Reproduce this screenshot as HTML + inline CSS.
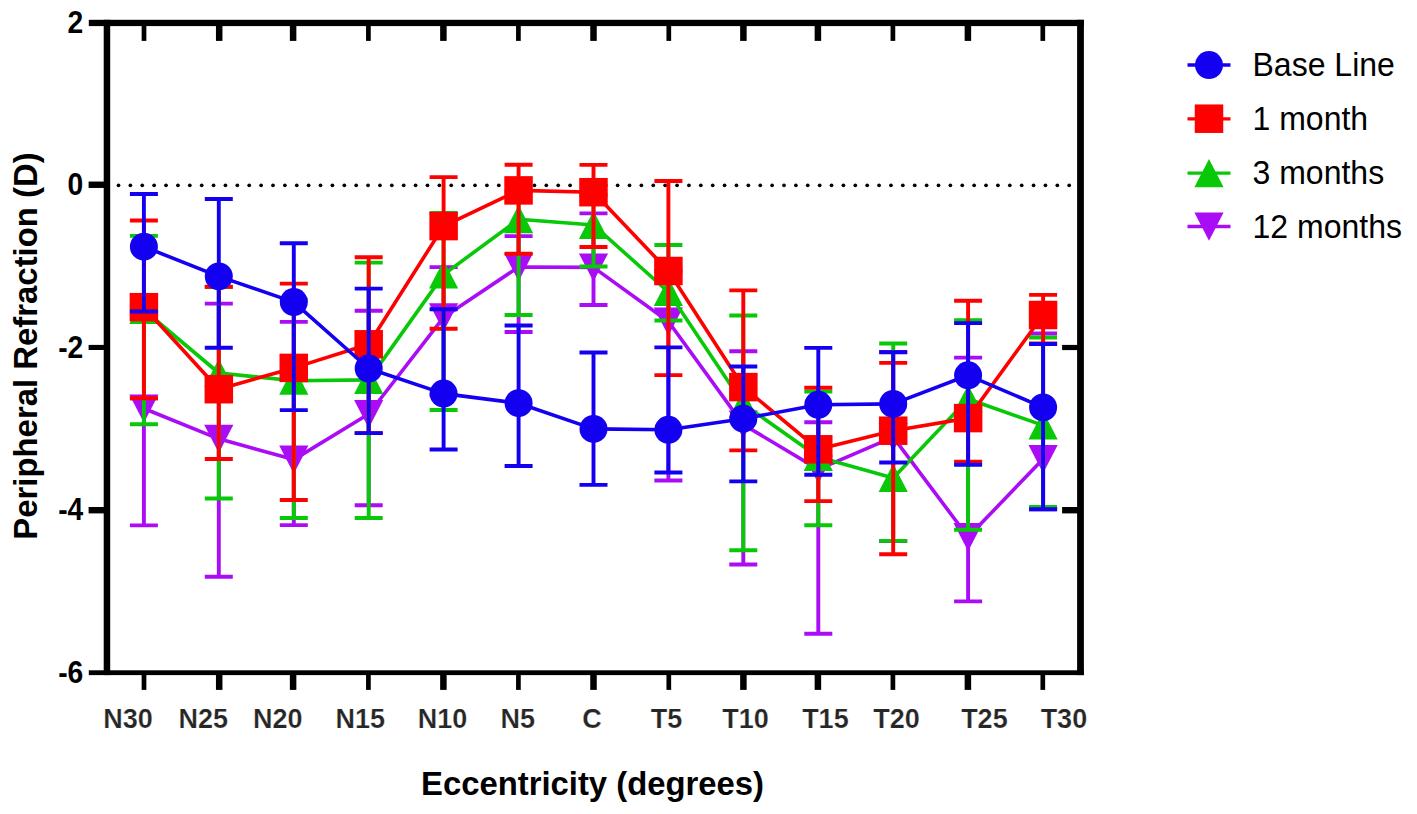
<!DOCTYPE html>
<html><head><meta charset="utf-8"><title>Peripheral Refraction</title>
<style>
html,body{margin:0;padding:0;background:#fff;}
body{width:1417px;height:814px;position:relative;overflow:hidden;font-family:"Liberation Sans",sans-serif;color:#000;}
.xl{position:absolute;top:703.0px;-webkit-text-stroke:0.22px #fff;width:100px;text-align:center;font-weight:bold;font-size:27px;line-height:32px;color:#262626;white-space:nowrap;}
.yl{position:absolute;left:0;width:83.3px;text-align:right;font-weight:bold;font-size:30px;line-height:34px;white-space:nowrap;transform:scale(0.94,1.07);transform-origin:100% 50%;}
.lg{position:absolute;left:1252.5px;font-size:32px;line-height:38px;white-space:nowrap;transform:scaleY(1.035);transform-origin:0 50%;}
.xt{position:absolute;left:421px;top:764.6px;font-weight:bold;font-size:32.85px;line-height:38px;white-space:nowrap;}
.yt{position:absolute;left:25.5px;top:346px;font-weight:bold;font-size:32.9px;line-height:38px;white-space:nowrap;transform:translate(-50%,-50%) rotate(-90deg);transform-origin:50% 50%;}
</style></head><body>
<svg width="1417" height="814" viewBox="0 0 1417 814" style="position:absolute;left:0;top:0">
<g fill="#000"><circle cx="118.50" cy="185.3" r="1.85"/><circle cx="130.38" cy="185.3" r="1.85"/><circle cx="142.27" cy="185.3" r="1.85"/><circle cx="154.15" cy="185.3" r="1.85"/><circle cx="166.04" cy="185.3" r="1.85"/><circle cx="177.92" cy="185.3" r="1.85"/><circle cx="189.80" cy="185.3" r="1.85"/><circle cx="201.69" cy="185.3" r="1.85"/><circle cx="213.57" cy="185.3" r="1.85"/><circle cx="225.46" cy="185.3" r="1.85"/><circle cx="237.34" cy="185.3" r="1.85"/><circle cx="249.22" cy="185.3" r="1.85"/><circle cx="261.11" cy="185.3" r="1.85"/><circle cx="272.99" cy="185.3" r="1.85"/><circle cx="284.88" cy="185.3" r="1.85"/><circle cx="296.76" cy="185.3" r="1.85"/><circle cx="308.64" cy="185.3" r="1.85"/><circle cx="320.53" cy="185.3" r="1.85"/><circle cx="332.41" cy="185.3" r="1.85"/><circle cx="344.30" cy="185.3" r="1.85"/><circle cx="356.18" cy="185.3" r="1.85"/><circle cx="368.06" cy="185.3" r="1.85"/><circle cx="379.95" cy="185.3" r="1.85"/><circle cx="391.83" cy="185.3" r="1.85"/><circle cx="403.72" cy="185.3" r="1.85"/><circle cx="415.60" cy="185.3" r="1.85"/><circle cx="427.48" cy="185.3" r="1.85"/><circle cx="439.37" cy="185.3" r="1.85"/><circle cx="451.25" cy="185.3" r="1.85"/><circle cx="463.14" cy="185.3" r="1.85"/><circle cx="475.02" cy="185.3" r="1.85"/><circle cx="486.90" cy="185.3" r="1.85"/><circle cx="498.79" cy="185.3" r="1.85"/><circle cx="510.67" cy="185.3" r="1.85"/><circle cx="522.56" cy="185.3" r="1.85"/><circle cx="534.44" cy="185.3" r="1.85"/><circle cx="546.32" cy="185.3" r="1.85"/><circle cx="558.21" cy="185.3" r="1.85"/><circle cx="570.09" cy="185.3" r="1.85"/><circle cx="581.98" cy="185.3" r="1.85"/><circle cx="593.86" cy="185.3" r="1.85"/><circle cx="605.74" cy="185.3" r="1.85"/><circle cx="617.63" cy="185.3" r="1.85"/><circle cx="629.51" cy="185.3" r="1.85"/><circle cx="641.40" cy="185.3" r="1.85"/><circle cx="653.28" cy="185.3" r="1.85"/><circle cx="665.16" cy="185.3" r="1.85"/><circle cx="677.05" cy="185.3" r="1.85"/><circle cx="688.93" cy="185.3" r="1.85"/><circle cx="700.82" cy="185.3" r="1.85"/><circle cx="712.70" cy="185.3" r="1.85"/><circle cx="724.58" cy="185.3" r="1.85"/><circle cx="736.47" cy="185.3" r="1.85"/><circle cx="748.35" cy="185.3" r="1.85"/><circle cx="760.24" cy="185.3" r="1.85"/><circle cx="772.12" cy="185.3" r="1.85"/><circle cx="784.00" cy="185.3" r="1.85"/><circle cx="795.89" cy="185.3" r="1.85"/><circle cx="807.77" cy="185.3" r="1.85"/><circle cx="819.66" cy="185.3" r="1.85"/><circle cx="831.54" cy="185.3" r="1.85"/><circle cx="843.42" cy="185.3" r="1.85"/><circle cx="855.31" cy="185.3" r="1.85"/><circle cx="867.19" cy="185.3" r="1.85"/><circle cx="879.08" cy="185.3" r="1.85"/><circle cx="890.96" cy="185.3" r="1.85"/><circle cx="902.84" cy="185.3" r="1.85"/><circle cx="914.73" cy="185.3" r="1.85"/><circle cx="926.61" cy="185.3" r="1.85"/><circle cx="938.50" cy="185.3" r="1.85"/><circle cx="950.38" cy="185.3" r="1.85"/><circle cx="962.26" cy="185.3" r="1.85"/><circle cx="974.15" cy="185.3" r="1.85"/><circle cx="986.03" cy="185.3" r="1.85"/><circle cx="997.92" cy="185.3" r="1.85"/><circle cx="1009.80" cy="185.3" r="1.85"/><circle cx="1021.68" cy="185.3" r="1.85"/><circle cx="1033.57" cy="185.3" r="1.85"/><circle cx="1045.45" cy="185.3" r="1.85"/><circle cx="1057.34" cy="185.3" r="1.85"/><circle cx="1069.22" cy="185.3" r="1.85"/></g>
<g stroke="#AA0CF5" stroke-width="3.9" fill="none">
<path d="M143.9 398.3V525.4M129.9 398.3H157.9M129.9 525.4H157.9"/>
<path d="M218.8 303.6V576.7M204.8 303.6H232.8M204.8 576.7H232.8"/>
<path d="M293.8 321.9V525.1M279.8 321.9H307.8M279.8 525.1H307.8"/>
<path d="M368.7 310.7V505.3M354.7 310.7H382.7M354.7 505.3H382.7"/>
<path d="M443.6 267.1V395.0M429.6 267.1H457.6M429.6 395.0H457.6"/>
<path d="M518.6 236.1V332.0M504.6 236.1H532.6M504.6 332.0H532.6"/>
<path d="M593.5 213.4V305.0M579.5 213.4H607.5M579.5 305.0H607.5"/>
<path d="M668.4 271.0V480.5M654.4 271.0H682.4M654.4 480.5H682.4"/>
<path d="M743.3 351.2V564.5M729.3 351.2H757.3M729.3 564.5H757.3"/>
<path d="M818.3 422.2V633.8M804.3 422.2H832.3M804.3 633.8H832.3"/>
<path d="M893.2 352.0V541.0M879.2 352.0H907.2M879.2 541.0H907.2"/>
<path d="M968.1 357.6V601.4M954.1 357.6H982.1M954.1 601.4H982.1"/>
<path d="M1043.1 333.5V509.3M1029.1 333.5H1057.1M1029.1 509.3H1057.1"/>
<polyline points="143.9,408.5 218.8,438.8 293.8,459.6 368.7,414.0 443.6,317.3 518.6,267.0 593.5,267.4 668.4,321.5 743.3,424.6 818.3,469.4 893.2,437.1 968.1,537.0 1043.1,459.0" stroke-linejoin="round" stroke-width="3.6"/>
</g>
<g fill="#AA0CF5">
<path d="M143.9 422.7L158.5 394.5H129.3Z"/>
<path d="M218.8 453.0L233.4 424.8H204.2Z"/>
<path d="M293.8 473.8L308.4 445.6H279.2Z"/>
<path d="M368.7 428.2L383.3 400.0H354.1Z"/>
<path d="M443.6 331.5L458.2 303.3H429.0Z"/>
<path d="M518.6 281.2L533.2 253.0H504.0Z"/>
<path d="M593.5 281.6L608.1 253.4H578.9Z"/>
<path d="M668.4 335.7L683.0 307.5H653.8Z"/>
<path d="M743.3 438.8L757.9 410.6H728.7Z"/>
<path d="M818.3 483.6L832.9 455.4H803.7Z"/>
<path d="M893.2 451.3L907.8 423.1H878.6Z"/>
<path d="M968.1 551.2L982.7 523.0H953.5Z"/>
<path d="M1043.1 473.2L1057.7 445.0H1028.5Z"/>
</g>
<g stroke="#08C808" stroke-width="3.9" fill="none">
<path d="M143.9 235.9V424.2M129.9 235.9H157.9M129.9 424.2H157.9"/>
<path d="M218.8 287.0V498.5M204.8 287.0H232.8M204.8 498.5H232.8"/>
<path d="M293.8 300.0V518.0M279.8 300.0H307.8M279.8 518.0H307.8"/>
<path d="M368.7 262.6V518.0M354.7 262.6H382.7M354.7 518.0H382.7"/>
<path d="M443.6 213.0V410.0M429.6 213.0H457.6M429.6 410.0H457.6"/>
<path d="M518.6 192.0V315.0M504.6 192.0H532.6M504.6 315.0H532.6"/>
<path d="M593.5 195.0V266.5M579.5 195.0H607.5M579.5 266.5H607.5"/>
<path d="M668.4 245.0V320.5M654.4 245.0H682.4M654.4 320.5H682.4"/>
<path d="M743.3 315.5V550.3M729.3 315.5H757.3M729.3 550.3H757.3"/>
<path d="M818.3 391.6V525.3M804.3 391.6H832.3M804.3 525.3H832.3"/>
<path d="M893.2 343.5V540.9M879.2 343.5H907.2M879.2 540.9H907.2"/>
<path d="M968.1 320.2V529.7M954.1 320.2H982.1M954.1 529.7H982.1"/>
<path d="M1043.1 337.5V507.0M1029.1 337.5H1057.1M1029.1 507.0H1057.1"/>
<polyline points="143.9,310.0 218.8,373.0 293.8,380.7 368.7,379.9 443.6,274.6 518.6,219.3 593.5,225.0 668.4,292.0 743.3,404.0 818.3,457.0 893.2,478.0 968.1,399.0 1043.1,425.4" stroke-linejoin="round" stroke-width="3.6"/>
</g>
<g fill="#08C808">
<path d="M143.9 295.8L158.5 324.0H129.3Z"/>
<path d="M218.8 358.8L233.4 387.0H204.2Z"/>
<path d="M293.8 366.5L308.4 394.7H279.2Z"/>
<path d="M368.7 365.7L383.3 393.9H354.1Z"/>
<path d="M443.6 260.4L458.2 288.6H429.0Z"/>
<path d="M518.6 205.1L533.2 233.3H504.0Z"/>
<path d="M593.5 210.8L608.1 239.0H578.9Z"/>
<path d="M668.4 277.8L683.0 306.0H653.8Z"/>
<path d="M743.3 389.8L757.9 418.0H728.7Z"/>
<path d="M818.3 442.8L832.9 471.0H803.7Z"/>
<path d="M893.2 463.8L907.8 492.0H878.6Z"/>
<path d="M968.1 384.8L982.7 413.0H953.5Z"/>
<path d="M1043.1 411.2L1057.7 439.4H1028.5Z"/>
</g>
<g stroke="#FF0000" stroke-width="3.9" fill="none">
<path d="M143.9 220.5V398.2M129.9 220.5H157.9M129.9 398.2H157.9"/>
<path d="M218.8 286.8V459.0M204.8 286.8H232.8M204.8 459.0H232.8"/>
<path d="M293.8 283.6V500.0M279.8 283.6H307.8M279.8 500.0H307.8"/>
<path d="M368.7 257.3V433.1M354.7 257.3H382.7M354.7 433.1H382.7"/>
<path d="M443.6 177.1V328.8M429.6 177.1H457.6M429.6 328.8H457.6"/>
<path d="M518.6 164.7V253.8M504.6 164.7H532.6M504.6 253.8H532.6"/>
<path d="M593.5 164.9V247.0M579.5 164.9H607.5M579.5 247.0H607.5"/>
<path d="M668.4 181.0V375.1M654.4 181.0H682.4M654.4 375.1H682.4"/>
<path d="M743.3 290.4V450.4M729.3 290.4H757.3M729.3 450.4H757.3"/>
<path d="M818.3 387.7V501.1M804.3 387.7H832.3M804.3 501.1H832.3"/>
<path d="M893.2 362.9V554.2M879.2 362.9H907.2M879.2 554.2H907.2"/>
<path d="M968.1 300.7V461.7M954.1 300.7H982.1M954.1 461.7H982.1"/>
<path d="M1043.1 294.9V343.5M1029.1 294.9H1057.1M1029.1 343.5H1057.1"/>
<polyline points="143.9,307.2 218.8,389.2 293.8,367.9 368.7,344.3 443.6,226.1 518.6,190.4 593.5,192.2 668.4,271.0 743.3,387.1 818.3,449.3 893.2,430.7 968.1,418.1 1043.1,315.0" stroke-linejoin="round" stroke-width="3.6"/>
</g>
<g fill="#FF0000">
<rect x="129.65" y="292.95" width="28.5" height="28.5"/>
<rect x="204.58" y="374.95" width="28.5" height="28.5"/>
<rect x="279.51" y="353.65" width="28.5" height="28.5"/>
<rect x="354.44" y="330.05" width="28.5" height="28.5"/>
<rect x="429.37" y="211.85" width="28.5" height="28.5"/>
<rect x="504.30" y="176.15" width="28.5" height="28.5"/>
<rect x="579.23" y="177.95" width="28.5" height="28.5"/>
<rect x="654.16" y="256.75" width="28.5" height="28.5"/>
<rect x="729.09" y="372.85" width="28.5" height="28.5"/>
<rect x="804.02" y="435.05" width="28.5" height="28.5"/>
<rect x="878.95" y="416.45" width="28.5" height="28.5"/>
<rect x="953.88" y="403.85" width="28.5" height="28.5"/>
<rect x="1028.81" y="300.75" width="28.5" height="28.5"/>
</g>
<g stroke="#1400F0" stroke-width="3.9" fill="none">
<path d="M143.9 194.0V311.5M129.9 194.0H157.9M129.9 311.5H157.9"/>
<path d="M218.8 199.0V347.8M204.8 199.0H232.8M204.8 347.8H232.8"/>
<path d="M293.8 243.2V410.1M279.8 243.2H307.8M279.8 410.1H307.8"/>
<path d="M368.7 288.6V433.1M354.7 288.6H382.7M354.7 433.1H382.7"/>
<path d="M443.6 309.2V449.5M429.6 309.2H457.6M429.6 449.5H457.6"/>
<path d="M518.6 325.5V466.0M504.6 325.5H532.6M504.6 466.0H532.6"/>
<path d="M593.5 352.5V484.9M579.5 352.5H607.5M579.5 484.9H607.5"/>
<path d="M668.4 347.4V472.5M654.4 347.4H682.4M654.4 472.5H682.4"/>
<path d="M743.3 366.5V481.4M729.3 366.5H757.3M729.3 481.4H757.3"/>
<path d="M818.3 347.9V474.7M804.3 347.9H832.3M804.3 474.7H832.3"/>
<path d="M893.2 352.3V462.5M879.2 352.3H907.2M879.2 462.5H907.2"/>
<path d="M968.1 323.1V464.7M954.1 323.1H982.1M954.1 464.7H982.1"/>
<path d="M1043.1 344.0V509.3M1029.1 344.0H1057.1M1029.1 509.3H1057.1"/>
<polyline points="143.9,246.7 218.8,276.4 293.8,302.1 368.7,368.5 443.6,393.6 518.6,403.2 593.5,428.9 668.4,429.8 743.3,418.7 818.3,404.8 893.2,403.9 968.1,375.3 1043.1,407.4" stroke-linejoin="round" stroke-width="3.6"/>
</g>
<g fill="#1400F0">
<circle cx="143.9" cy="246.7" r="14"/>
<circle cx="218.8" cy="276.4" r="14"/>
<circle cx="293.8" cy="302.1" r="14"/>
<circle cx="368.7" cy="368.5" r="14"/>
<circle cx="443.6" cy="393.6" r="14"/>
<circle cx="518.6" cy="403.2" r="14"/>
<circle cx="593.5" cy="428.9" r="14"/>
<circle cx="668.4" cy="429.8" r="14"/>
<circle cx="743.3" cy="418.7" r="14"/>
<circle cx="818.3" cy="404.8" r="14"/>
<circle cx="893.2" cy="403.9" r="14"/>
<circle cx="968.1" cy="375.3" r="14"/>
<circle cx="1043.1" cy="407.4" r="14"/>
</g>
<g fill="#000">
<rect x="88.8" y="19.8" width="995.10" height="6.30"/>
<rect x="88.8" y="670.3" width="995.10" height="4.80"/>
<rect x="103.7" y="19.8" width="6.50" height="655.30"/>
<rect x="1077.1" y="19.8" width="6.80" height="655.30"/>
<rect x="141.65" y="675" width="4.7" height="14.9"/><rect x="141.65" y="26" width="4.7" height="14.9"/>
<rect x="215.95" y="675" width="6.5" height="14.9"/><rect x="215.95" y="26" width="6.5" height="14.9"/>
<rect x="289.85" y="675" width="6.5" height="14.9"/><rect x="289.85" y="26" width="6.5" height="14.9"/>
<rect x="366.05" y="675" width="4.7" height="14.9"/><rect x="366.05" y="26" width="4.7" height="14.9"/>
<rect x="440.15" y="675" width="6.5" height="14.9"/><rect x="440.15" y="26" width="6.5" height="14.9"/>
<rect x="516.05" y="675" width="4.7" height="14.9"/><rect x="516.05" y="26" width="4.7" height="14.9"/>
<rect x="590.25" y="675" width="6.5" height="14.9"/><rect x="590.25" y="26" width="6.5" height="14.9"/>
<rect x="666.45" y="675" width="4.7" height="14.9"/><rect x="666.45" y="26" width="4.7" height="14.9"/>
<rect x="740.15" y="675" width="6.5" height="14.9"/><rect x="740.15" y="26" width="6.5" height="14.9"/>
<rect x="814.65" y="675" width="6.5" height="14.9"/><rect x="814.65" y="26" width="6.5" height="14.9"/>
<rect x="890.55" y="675" width="4.7" height="14.9"/><rect x="890.55" y="26" width="4.7" height="14.9"/>
<rect x="964.65" y="675" width="6.5" height="14.9"/><rect x="964.65" y="26" width="6.5" height="14.9"/>
<rect x="1040.45" y="675" width="4.7" height="14.9"/><rect x="1040.45" y="26" width="4.7" height="14.9"/>
<rect x="88.6" y="181.55" width="16" height="6.4"/>
<rect x="88.6" y="344.90" width="16" height="5.1"/>
<rect x="88.6" y="507.00" width="16" height="6.4"/>
<rect x="1062.1" y="344.90" width="16" height="5.2"/>
<rect x="1062.1" y="507.00" width="16" height="6.4"/>
</g>
<g stroke-width="3.3">
<path d="M1187.5 65H1230.5" stroke="#1400F0"/>
<path d="M1187.5 118.8H1230.5" stroke="#FF0000"/>
<path d="M1187.5 173.1H1230.5" stroke="#08C808"/>
<path d="M1187.5 226.5H1230.5" stroke="#AA0CF5"/>
</g>
<g fill="#1400F0"><circle cx="1209.0" cy="65.1" r="14"/></g>
<g fill="#FF0000"><rect x="1194.75" y="104.45" width="28.5" height="28.5"/></g>
<g fill="#08C808"><path d="M1209.0 159.0L1223.6 187.2H1194.4Z"/></g>
<g fill="#AA0CF5"><path d="M1209.0 240.7L1223.6 212.5H1194.4Z"/></g>
</svg>
<div class="xl" style="left:78.1px">N30</div>
<div class="xl" style="left:153.3px">N25</div>
<div class="xl" style="left:227.7px">N20</div>
<div class="xl" style="left:310.3px">N15</div>
<div class="xl" style="left:392.6px">N10</div>
<div class="xl" style="left:467.7px">N5</div>
<div class="xl" style="left:542.1px">C</div>
<div class="xl" style="left:616.6px">T5</div>
<div class="xl" style="left:695.5px">T10</div>
<div class="xl" style="left:775.4px">T15</div>
<div class="xl" style="left:846.6px">T20</div>
<div class="xl" style="left:934.4px">T25</div>
<div class="xl" style="left:1013.9px">T30</div>
<div class="yl" style="top:5.0px">2</div>
<div class="yl" style="top:167.4px">0</div>
<div class="yl" style="top:329.8px">-2</div>
<div class="yl" style="top:492.2px">-4</div>
<div class="yl" style="top:654.6px">-6</div>
<div class="lg" style="top:46.0px">Base Line</div>
<div class="lg" style="top:99.8px">1 month</div>
<div class="lg" style="top:154.1px">3 months</div>
<div class="lg" style="top:207.5px">12 months</div>
<div class="xt">Eccentricity (degrees)</div>
<div class="yt">Peripheral Refraction (D)</div>
</body></html>
